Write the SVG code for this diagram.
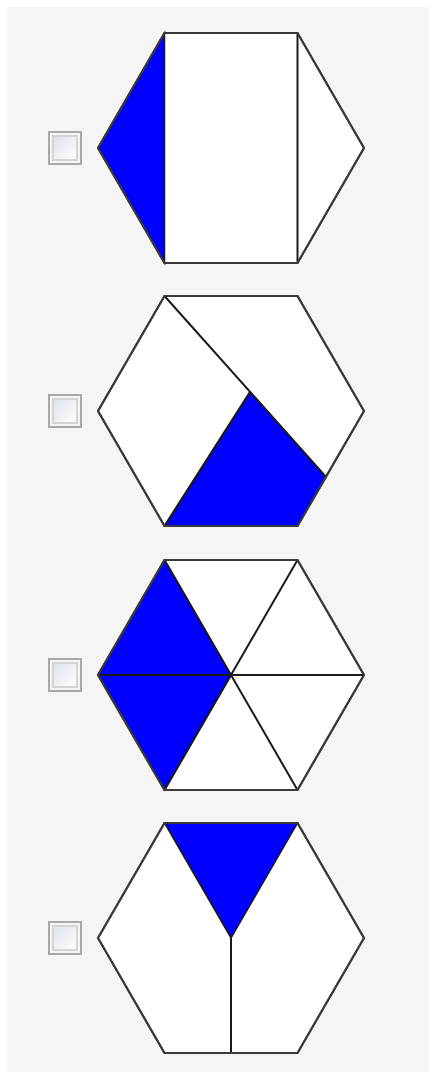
<svg xmlns="http://www.w3.org/2000/svg" width="429" height="1072" viewBox="0 0 429 1072">
  <style>
    .hex { fill: #ffffff; stroke: #3a3a3a; stroke-width: 2; stroke-linejoin: miter; }
    .blue { fill: #0000ff; stroke: #1a1a1a; stroke-width: 1.5; stroke-linejoin: miter; }
    .cut { fill: none; stroke: #1a1a1a; stroke-width: 2; }
    .cbo { fill: none; stroke: #a8a8a8; stroke-width: 2; }
    .cbi { fill: url(#cbg); stroke: #d4d4d4; stroke-width: 2; }
  </style>
  <defs>
    <linearGradient id="cbg" x1="0" y1="0" x2="1" y2="1">
      <stop offset="0" stop-color="#dde1e8"/>
      <stop offset="1" stop-color="#ffffff"/>
    </linearGradient>
    <polygon id="hexshape" points="-133,0 -66.5,-115 66.5,-115 133,0 66.5,115 -66.5,115"/>
    <g id="checkbox">
      <rect class="cbo" x="1" y="1" width="32" height="32"/>
      <rect class="cbi" x="5" y="5" width="24" height="24"/>
    </g>
  </defs>
  <rect x="7" y="7" width="422" height="1065" fill="#f5f5f5"/>

  <g id="option1">
    <use href="#checkbox" x="48" y="131"/>
    <g transform="translate(231,148)">
      <use href="#hexshape" class="hex"/>
      <polygon class="blue" points="-133,0 -66.5,-115 -66.5,115"/>
      <line class="cut" x1="66.5" y1="-115" x2="66.5" y2="115"/>
      <polygon points="-133,0 -66.5,-115 66.5,-115 133,0 66.5,115 -66.5,115" fill="none" stroke="#3a3a3a" stroke-width="2"/>
    </g>
  </g>

  <g id="option2">
    <use href="#checkbox" x="48" y="394"/>
    <g transform="translate(231,411)">
      <use href="#hexshape" class="hex"/>
      <polygon class="blue" points="19,-19 95,66 66.5,115 -66.5,115"/>
      <line class="cut" x1="-66.5" y1="-115" x2="95" y2="66"/>
      <line class="cut" x1="-66.5" y1="115" x2="19" y2="-19"/>
      <polygon points="-133,0 -66.5,-115 66.5,-115 133,0 66.5,115 -66.5,115" fill="none" stroke="#3a3a3a" stroke-width="2"/>
    </g>
  </g>

  <g id="option3">
    <use href="#checkbox" x="48" y="658"/>
    <g transform="translate(231,675)">
      <use href="#hexshape" class="hex"/>
      <polygon class="blue" points="-133,0 -66.5,-115 0,0"/>
      <polygon class="blue" points="-133,0 -66.5,115 0,0"/>
      <line class="cut" x1="-133" y1="0" x2="133" y2="0"/>
      <line class="cut" x1="-66.5" y1="-115" x2="66.5" y2="115"/>
      <line class="cut" x1="66.5" y1="-115" x2="-66.5" y2="115"/>
      <polygon points="-133,0 -66.5,-115 66.5,-115 133,0 66.5,115 -66.5,115" fill="none" stroke="#3a3a3a" stroke-width="2"/>
    </g>
  </g>

  <g id="option4">
    <use href="#checkbox" x="48" y="921"/>
    <g transform="translate(231,938)">
      <use href="#hexshape" class="hex"/>
      <polygon class="blue" points="-66.5,-115 66.5,-115 0,0"/>
      <line class="cut" x1="0" y1="0" x2="0" y2="115" stroke="#555555"/>
      <polygon points="-133,0 -66.5,-115 66.5,-115 133,0 66.5,115 -66.5,115" fill="none" stroke="#3a3a3a" stroke-width="2"/>
    </g>
  </g>

  <g id="connectors"></g>
</svg>
